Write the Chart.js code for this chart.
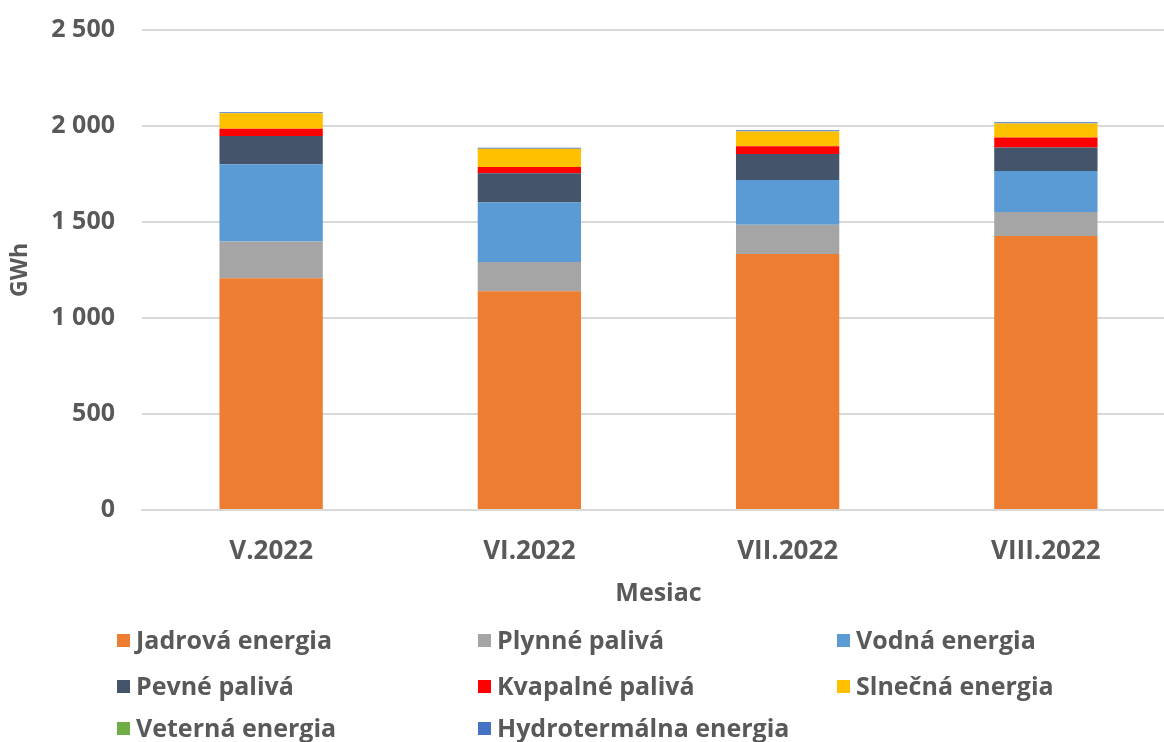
<!DOCTYPE html>
<html>
<head>
<meta charset="utf-8">
<script src="https://cdn.jsdelivr.net/npm/chart.js@4.4.0/dist/chart.umd.min.js"></script>
<style>
  html, body { margin: 0; padding: 0; background: #ffffff; overflow: hidden; width: 1164px; height: 742px; }
  #wrap { position: relative; width: 1164px; height: 742px; overflow: hidden; }
  canvas { position: absolute; left: 0; top: -12px; }
  .lg { position: absolute; font-family: "Open Sans", sans-serif; font-weight: 700; font-size: 25px; color: #595959; white-space: nowrap; line-height: 1; }
  .lg span.box { display: inline-block; width: 13px; height: 13px; margin-right: 6px; vertical-align: middle; position: relative; top: -2px; }
</style>
</head>
<body>
<div id="wrap">
<canvas id="c" width="1180" height="742" style="width:1180px;height:742px"></canvas>
</div>
<script>
const categories = ["V.2022", "VI.2022", "VII.2022", "VIII.2022"];
const seriesNames = ["Jadrová energia", "Plynné palivá", "Vodná energia", "Pevné palivá", "Kvapalné palivá", "Slnečná energia", "Veterná energia", "Hydrotermálna energia"];
const seriesColors = ["#ED7D31", "#A5A5A5", "#5B9BD5", "#44546A", "#FF0000", "#FFC000", "#70AD47", "#4472C4"];
const jadrova = [1207, 1139, 1333, 1427];
const plynne = [191, 153, 153, 125];
const vodna = [403, 309, 233, 214];
const pevne = [147, 153, 135, 122];
const kvapalne = [38, 33, 40, 52];
const slnecna = [80, 94, 78, 73];
const veterna = [1, 1, 1, 1];
const hydrotermalna = [5, 5, 5, 5];
const seriesValues = [jadrova, plynne, vodna, pevne, kvapalne, slnecna, veterna, hydrotermalna];
const yTicks = [0, 500, 1000, 1500, 2000, 2500];

const txt = "#595959";
const fam = "'Open Sans', sans-serif";

const datasets = seriesNames.map((n, i) => ({
  label: n,
  data: seriesValues[i],
  backgroundColor: seriesColors[i],
  borderWidth: 0,
  barPercentage: 0.4,
  categoryPercentage: 1.0
}));

const chart = new Chart(document.getElementById("c"), {
  type: "bar",
  data: { labels: categories, datasets: datasets },
  options: {
    responsive: false,
    animation: false,
    layout: { autoPadding: false, padding: { top: 30, right: 5, left: 0, bottom: 120 } },
    plugins: { legend: { display: false }, tooltip: { enabled: false } },
    scales: {
      x: {
        stacked: true,
        grid: { display: false, drawTicks: false },
        border: { display: true, color: "#d9d9d9", width: 2 },
        ticks: { color: txt, font: { family: fam, size: 26, weight: "bold" }, padding: 26 },
        title: { display: true, text: "Mesiac", color: txt, font: { family: fam, size: 25, weight: "bold" }, padding: { top: 4, bottom: 1 } },
        afterFit: (s) => { s.height = 100; }
      },
      y: {
        stacked: true,
        min: 0, max: 2500,
        afterBuildTicks: (s) => { s.ticks = yTicks.map(v => ({ value: v })); },
        grid: { color: "#d9d9d9", lineWidth: 2, drawTicks: false },
        border: { display: false },
        ticks: {
          color: txt, font: { family: fam, size: 25, weight: "bold" }, padding: 27,
          callback: (v) => String(v).replace(/\B(?=(\d{3})+(?!\d))/g, " ")
        },
        title: { display: true, text: "GWh", color: txt, font: { family: fam, size: 23, weight: "bold" }, padding: { top: 7, bottom: 0 } },
        afterFit: (s) => { s.width = 142; }
      }
    }
  }
});

// HTML legend built from the chart's datasets
const wrap = document.getElementById("wrap");
const colX = [117, 478, 837];
const rowY = [640, 686, 728];
chart.data.datasets.forEach((ds, i) => {
  const d = document.createElement("div");
  d.className = "lg";
  const b = document.createElement("span");
  b.className = "box";
  b.style.background = ds.backgroundColor;
  d.appendChild(b);
  d.appendChild(document.createTextNode(ds.label));
  d.style.left = colX[i % 3] + "px";
  d.style.top = (rowY[Math.floor(i / 3)] - 13) + "px";
  wrap.appendChild(d);
});
</script>
</body>
</html>
